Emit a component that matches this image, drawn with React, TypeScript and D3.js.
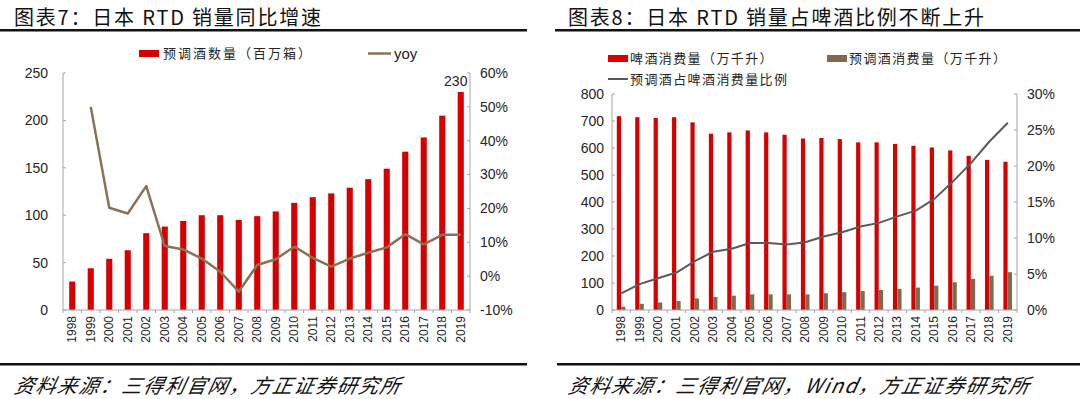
import React from 'react';
import * as d3 from 'd3';

const YEARS = ['1998', '1999', '2000', '2001', '2002', '2003', '2004', '2005', '2006', '2007', '2008',
  '2009', '2010', '2011', '2012', '2013', '2014', '2015', '2016', '2017', '2018', '2019'];

// 图表7
const RTD_VOLUME = [30, 44, 54, 63, 81, 88, 94, 100, 100, 95, 99, 104, 113, 119, 123, 129, 138, 149, 167, 182, 205, 230];
const RTD_YOY = [null, 50, 20.2, 18.5, 26.6, 8.9, 7.9, 5.2, 1.3, -4.6, 3.3, 5.0, 8.7, 5.4, 2.8, 5.2, 6.9, 8.5, 12.4, 9.4, 12.2, 12.2];
const LEFT_TICKS = [0, 50, 100, 150, 200, 250];
const YOY_TICKS = [-10, 0, 10, 20, 30, 40, 50, 60];

// 图表8
const BEER_CONS = [718, 714, 711, 714, 695, 653, 658, 665, 658, 649, 635, 637, 633, 621, 621, 615, 608, 602, 591, 571, 556, 549];
const RTD_CONS = [12, 23, 28, 33, 43, 48, 53, 58, 58, 58, 58, 62, 66, 70, 74, 78, 83, 90, 103, 115, 127, 140];
const RTD_SHARE = [2.3, 3.6, 4.4, 5.2, 6.8, 8.1, 8.5, 9.3, 9.3, 9.1, 9.4, 10.2, 10.8, 11.6, 12.1, 13.0, 13.8, 15.4, 17.8, 20.4, 23.4, 26.0];
const CONS_TICKS = [0, 100, 200, 300, 400, 500, 600, 700, 800];
const SHARE_TICKS = [0, 5, 10, 15, 20, 25, 30];

const RED = '#d60000';
const BROWN_LINE = '#8a7256';
const BROWN_BAR = '#7d6a4f';
const GREY_LINE = '#5a5a5a';
const AXIS = '#a6a6a6';
const TEXT = '#262626';
const NUM_FONT = '"Liberation Sans", Arial, sans-serif';
const CJK_FONT = '"Noto Sans CJK SC", sans-serif';

const TOP = 73;
const BOTTOM = 310;

function XLabels({ x }: { x: d3.ScaleBand<string> }) {
  return (
    <g>
      {YEARS.map(y => {
        const cx = (x(y) as number) + x.bandwidth() / 2;
        return (
          <text key={y} transform={`translate(${cx + 4},316) rotate(-90)`} textAnchor="end"
            fontFamily={NUM_FONT} fontSize={12} fill={TEXT}>{y}</text>
        );
      })}
    </g>
  );
}

function XAxisLine({ x }: { x: d3.ScaleBand<string> }) {
  const [a, b] = x.range();
  return (
    <g stroke={AXIS} strokeWidth={1}>
      <line x1={a} x2={b} y1={BOTTOM} y2={BOTTOM} />
      {YEARS.map(y => (
        <line key={y} x1={x(y)} x2={x(y)} y1={BOTTOM} y2={BOTTOM + 3} />
      ))}
      <line x1={b} x2={b} y1={BOTTOM} y2={BOTTOM + 3} />
    </g>
  );
}

function YAxis({ scale, ticks, x, side, fmt, gap }:
  { scale: d3.ScaleLinear<number, number>; ticks: number[]; x: number; side: 'left' | 'right'; fmt: (v: number) => string; gap: number }) {
  const dir = side === 'left' ? 1 : -1;
  return (
    <g>
      <line x1={x} x2={x} y1={scale.range()[0]} y2={scale.range()[1]} stroke={AXIS} />
      {ticks.map(t => (
        <g key={t}>
          <line x1={x} x2={x + dir * 3} y1={scale(t)} y2={scale(t)} stroke={AXIS} />
          <text x={side === 'left' ? x - gap : x + gap} y={scale(t)} dy="0.35em"
            textAnchor={side === 'left' ? 'end' : 'start'}
            fontFamily={NUM_FONT} fontSize={14} fill={TEXT}>{fmt(t)}</text>
        </g>
      ))}
    </g>
  );
}

function Header({ x0, x1, textX, title }: { x0: number; x1: number; textX: number; title: string }) {
  return (
    <g>
      <text x={textX} y={25} fontFamily={CJK_FONT} fontSize={20} fill="#111" letterSpacing={1.8}>{title}</text>
      <rect x={x0} y={29} width={x1 - x0} height={2.5} fill="#111" />
    </g>
  );
}

function Footer({ x0, x1, textX, text }: { x0: number; x1: number; textX: number; text: string }) {
  return (
    <g>
      <rect x={x0} y={363} width={x1 - x0} height={2.5} fill="#111" />
      <text x={textX} y={393} fontFamily={CJK_FONT} fontSize={20} fontStyle="italic" letterSpacing={1.5}
        fill="#111" transform={`skewX(-12)`} style={{ transformBox: 'fill-box', transformOrigin: 'left bottom' }}>{text}</text>
    </g>
  );
}

function LeftChart() {
  const x = d3.scaleBand<string>().domain(YEARS).range([63, 470]).padding(0);
  const y = d3.scaleLinear().domain([0, 250]).range([BOTTOM, TOP]);
  const yr = d3.scaleLinear().domain([-10, 60]).range([BOTTOM, TOP]);
  const bw = x.bandwidth() * 0.33;
  const cx = (d: string) => (x(d) as number) + x.bandwidth() / 2;

  const line = d3.line<[string, number | null]>()
    .defined(d => d[1] != null)
    .x(d => cx(d[0]))
    .y(d => yr(d[1] as number));
  const pts = YEARS.map((yy, i) => [yy, RTD_YOY[i]] as [string, number | null]);
  const last = YEARS.length - 1;

  return (
    <g>
      <Header x0={0} x1={527} textX={14} title="图表7：日本 RTD 销量同比增速" />
      {/* legend */}
      <rect x={139} y={50} width={20} height={7} fill={RED} />
      <text x={163} y={58} fontFamily={CJK_FONT} fontSize={13} fill={TEXT} letterSpacing={2}>预调酒数量（百万箱）</text>
      <line x1={368} x2={391} y1={53.5} y2={53.5} stroke={BROWN_LINE} strokeWidth={2.5} />
      <text x={394} y={59} fontFamily={NUM_FONT} fontSize={15} fill={TEXT}>yoy</text>

      {YEARS.map((yy, i) => (
        <rect key={yy} x={cx(yy) - bw / 2} y={y(RTD_VOLUME[i])} width={bw}
          height={y(0) - y(RTD_VOLUME[i])} fill={RED} />
      ))}
      <path d={line(pts) || ''} fill="none" stroke={BROWN_LINE} strokeWidth={2.5} strokeLinejoin="round" />
      <text x={cx(YEARS[last]) - 5} y={y(RTD_VOLUME[last]) - 6} textAnchor="middle"
        fontFamily={NUM_FONT} fontSize={14} fill={TEXT}>{RTD_VOLUME[last]}</text>

      <XAxisLine x={x} />
      <YAxis scale={y} ticks={LEFT_TICKS} x={63} side="left" fmt={v => String(v)} gap={15} />
      <YAxis scale={yr} ticks={YOY_TICKS} x={470} side="right" fmt={v => `${v}%`} gap={10} />
      <XLabels x={x} />
      <Footer x0={0} x1={527} textX={12} text="资料来源：三得利官网，方正证券研究所" />
    </g>
  );
}

function RightChart() {
  const top = 94;
  const x = d3.scaleBand<string>().domain(YEARS).range([612, 1017]).padding(0);
  const y = d3.scaleLinear().domain([0, 800]).range([BOTTOM, top]);
  const yr = d3.scaleLinear().domain([0, 30]).range([BOTTOM, top]);
  const cx = (d: string) => (x(d) as number) + x.bandwidth() / 2;
  const sub = d3.scaleBand<string>().domain(['beer', 'rtd']).range([-4.4, 4.2]).paddingInner(0.04);

  const line = d3.line<[string, number]>()
    .x(d => cx(d[0]))
    .y(d => yr(d[1]));
  const pts = YEARS.map((yy, i) => [yy, RTD_SHARE[i]] as [string, number]);

  return (
    <g>
      <Header x0={555} x1={1080} textX={568} title="图表8：日本 RTD 销量占啤酒比例不断上升" />
      {/* legend */}
      <rect x={608} y={55} width={20} height={7} fill={RED} />
      <text x={630} y={63} fontFamily={CJK_FONT} fontSize={13} fill={TEXT} letterSpacing={1.4}>啤酒消费量（万千升）</text>
      <rect x={827} y={55} width={20} height={7} fill={BROWN_BAR} />
      <text x={849} y={63} fontFamily={CJK_FONT} fontSize={13} fill={TEXT} letterSpacing={1.4}>预调酒消费量（万千升）</text>
      <line x1={608} x2={628} y1={79} y2={79} stroke={GREY_LINE} strokeWidth={2} />
      <text x={630} y={84} fontFamily={CJK_FONT} fontSize={13} fill={TEXT} letterSpacing={1.4}>预调酒占啤酒消费量比例</text>

      {YEARS.map((yy, i) => (
        <g key={yy}>
          <rect x={cx(yy) + (sub('beer') as number)} y={y(BEER_CONS[i])} width={sub.bandwidth()}
            height={y(0) - y(BEER_CONS[i])} fill={RED} />
          <rect x={cx(yy) + (sub('rtd') as number)} y={y(RTD_CONS[i])} width={sub.bandwidth()}
            height={y(0) - y(RTD_CONS[i])} fill={BROWN_BAR} />
        </g>
      ))}
      <path d={line(pts) || ''} fill="none" stroke={GREY_LINE} strokeWidth={2} strokeLinejoin="round" />

      <XAxisLine x={x} />
      <YAxis scale={y} ticks={CONS_TICKS} x={612} side="left" fmt={v => String(v)} gap={8} />
      <YAxis scale={yr} ticks={SHARE_TICKS} x={1017} side="right" fmt={v => `${v}%`} gap={10} />
      <XLabels x={x} />
      <Footer x0={557} x1={1080} textX={566} text="资料来源：三得利官网，Wind，方正证券研究所" />
    </g>
  );
}

export default function App() {
  return (
    <svg width={1080} height={399} viewBox="0 0 1080 399"
      style={{ position: 'absolute', left: 0, top: 0, background: '#fff' }}>
      <rect width={1080} height={399} fill="#fff" />
      <LeftChart />
      <RightChart />
    </svg>
  );
}
